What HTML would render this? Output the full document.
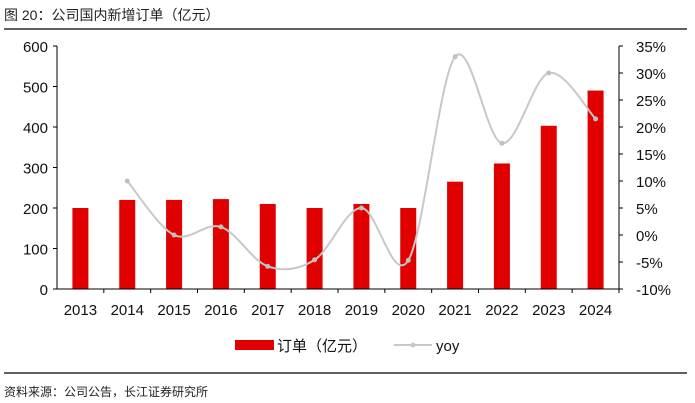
<!DOCTYPE html>
<html><head><meta charset="utf-8"><style>
body{margin:0;background:#fff;width:695px;height:403px;overflow:hidden;font-family:"Liberation Sans","Noto Sans CJK SC",sans-serif}
</style></head><body>
<svg width="695" height="403" style="position:absolute;left:0;top:0">
<text x="4" y="20" font-size="14" fill="#222" font-family="Liberation Sans,Noto Sans CJK SC,sans-serif">图 20：公司国内新增订单（亿元）</text>
<line x1="4" y1="29" x2="687" y2="29" stroke="#000" stroke-width="1.2"/>
<g id="plot"></g>
<g>
<rect x="235" y="340" width="39" height="10" fill="#e00000"/>
<text x="277" y="351" font-size="15" fill="#111">订单（亿元）</text>
<line x1="394" y1="345" x2="432" y2="345" stroke="#c8c8c8" stroke-width="2"/>
<circle cx="413" cy="345" r="2.5" fill="#c8c8c8"/>
<text x="436" y="351" font-size="15" fill="#111">yoy</text>
</g>
<line x1="4" y1="373" x2="687" y2="373" stroke="#000" stroke-width="1.2"/>
<text x="4" y="396" font-size="12" fill="#222">资料来源：公司公告，长江证券研究所</text>
</svg>
<script>
const categories=["2013","2014","2015","2016","2017","2018","2019","2020","2021","2022","2023","2024"];
const orders=[200,220,220,222,210,200,210,200,265,310,403,490];
const yoy=[null,10,0,1.5,-5.8,-4.6,5,-4.7,33,17,30,21.5];
const leftTicks=[0,100,200,300,400,500,600];
const rightTicks=[-10,-5,0,5,10,15,20,25,30,35];
const NS="http://www.w3.org/2000/svg";
const g=document.getElementById('plot');
const X0=57,X1=619,Y0=289,Y1=46;
const band=(X1-X0)/categories.length;
const xc=i=>X0+band*(i+0.5);
const yL=v=>Y0-(v-0)/(600-0)*(Y0-Y1);
const yR=v=>Y0-(v+10)/45*(Y0-Y1);
function mk(t,a){const e=document.createElementNS(NS,t);for(const k in a)e.setAttribute(k,a[k]);g.appendChild(e);return e;}
orders.forEach((v,i)=>{const r=mk('rect',{x:xc(i)-8,y:yL(v),width:16,height:Y0-yL(v),fill:'#e00000'});

});
let ax=mk('line',{x1:X0,y1:Y1,x2:X0,y2:Y0,stroke:'#000'});


ax=mk('line',{x1:X1,y1:Y1,x2:X1,y2:Y0,stroke:'#000'});


ax=mk('line',{x1:X0,y1:Y0,x2:X1,y2:Y0,stroke:'#000'});


leftTicks.forEach(v=>{mk('line',{x1:X0-4,x2:X0,y1:yL(v),y2:yL(v),stroke:'#000'});
const t=mk('text',{x:X0-9,y:yL(v)+6,'text-anchor':'end','font-size':15,fill:'#111'});t.textContent=v;

});
rightTicks.forEach(v=>{mk('line',{x1:X1,x2:X1+4,y1:yR(v),y2:yR(v),stroke:'#000'});
const t=mk('text',{x:X1+17,y:yR(v)+6,'font-size':15,fill:'#111'});t.textContent=v+'%';

});
categories.forEach((c,i)=>{mk('line',{x1:X0+band*(i+1),x2:X0+band*(i+1),y1:Y0,y2:Y0+4,stroke:'#000'});
const t=mk('text',{x:xc(i),y:Y0+26,'text-anchor':'middle','font-size':15,fill:'#111'});t.textContent=c;

});
const pts=[];yoy.forEach((v,i)=>{if(v!==null)pts.push([xc(i),yR(v)]);});
let d='M'+pts[0][0]+','+pts[0][1];
for(let i=0;i<pts.length-1;i++){const p0=pts[Math.max(0,i-1)],p1=pts[i],p2=pts[i+1],p3=pts[Math.min(pts.length-1,i+2)];
const c1=[p1[0]+(p2[0]-p0[0])/6,p1[1]+(p2[1]-p0[1])/6],c2=[p2[0]-(p3[0]-p1[0])/6,p2[1]-(p3[1]-p1[1])/6];
d+=` C${c1[0]},${c1[1]} ${c2[0]},${c2[1]} ${p2[0]},${p2[1]}`;}
const ln=mk('path',{d:d,fill:'none',stroke:'#c8c8c8','stroke-width':2});


pts.forEach(p=>{const c=mk('circle',{cx:p[0],cy:p[1],r:2.5,fill:'#c0c0c0'});

});
</script>
</body></html>
